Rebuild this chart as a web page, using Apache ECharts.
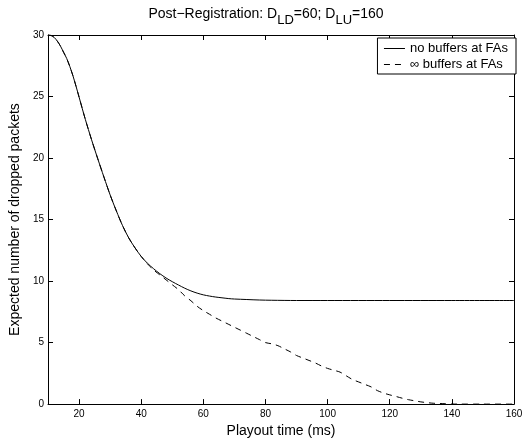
<!DOCTYPE html>
<html>
<head>
<meta charset="utf-8">
<script src="https://cdn.jsdelivr.net/npm/echarts@6/dist/echarts.min.js"></script>
<style>html,body{margin:0;padding:0;background:#fff;}#c{width:532px;height:443px;}</style>
</head>
<body>
<div id="c"></div>
<script>
// Data
const solidX = [10,11,12,13,14,15,16,17,18,19,20,22,24,26,28,30,32,34,36,38,40,42,44,46,48,50,52,54,56,58,60,62,64,66,68,70,74,78,82,90,100,120,140,160];
const solidY = [30,29.96,29.8,29.5,29.1,28.6,28.1,27.45,26.7,25.85,24.95,23.15,21.5,19.95,18.45,17.0,15.7,14.5,13.5,12.7,12.0,11.45,11.0,10.6,10.25,9.95,9.68,9.42,9.2,9.02,8.88,8.78,8.7,8.64,8.58,8.54,8.5,8.46,8.44,8.42,8.42,8.42,8.42,8.42];
const dashX = [10,11,12,13,14,15,16,17,18,19,20,22,24,26,28,30,32,34,36,38,40,42,44,46,48,50,52,54,56,58,60,62,64,66,68,70,72,74,76,78,80,82,84,86,88,90,92,94,96,98,100,102,104,106,108,110,112,114,116,118,120,122,124,126,128,130,132,134,136,138,140,142,150,160];
const dashY = [30,29.96,29.8,29.5,29.1,28.6,28.1,27.45,26.7,25.85,24.95,23.15,21.5,19.95,18.45,17.0,15.7,14.5,13.5,12.7,12.0,11.4,10.9,10.5,10.1,9.7,9.3,8.8,8.4,7.95,7.6,7.3,7.0,6.75,6.5,6.25,6.0,5.75,5.5,5.25,5.0,4.9,4.75,4.5,4.25,3.95,3.75,3.55,3.35,3.1,2.9,2.75,2.6,2.3,2.0,1.8,1.6,1.4,1.1,0.9,0.75,0.62,0.48,0.36,0.27,0.18,0.12,0.07,0.05,0.03,0.01,0,0,0];
const xTicks = [20,40,60,80,100,120,140,160];
const yTicks = [0,5,10,15,20,25,30];
const seriesNames = ['no buffers at FAs', '\u221e buffers at FAs'];

const font = 'Liberation Sans, Arial, Helvetica, sans-serif';
const chart = echarts.init(document.getElementById('c'), null, {renderer:'canvas'});
const tickStyle = {show:true, inside:true, length:5, lineStyle:{color:'#000', width:1}};
chart.setOption({
  animation:false,
  backgroundColor:'#fff',
  title:{
    text:'{a|Post\u2212Registration: D}{s|LD}{a|=60; D}{s|LU}{a|=160}',
    left:'center', top:2,
    textStyle:{
      fontFamily:font, fontWeight:'normal',
      rich:{
        a:{fontFamily:font, fontSize:14, fontWeight:'normal', color:'#000', verticalAlign:'top', lineHeight:16},
        s:{fontFamily:font, fontSize:13, fontWeight:'normal', color:'#000', verticalAlign:'top', lineHeight:16, padding:[7,0,0,0]}
      }
    }
  },
  legend:{
    right:16, top:38, orient:'vertical',
    backgroundColor:'#fff', borderColor:'#000', borderWidth:1, borderRadius:0,
    padding:[4,8,3,6], itemGap:3, itemWidth:21, itemHeight:12,
    itemStyle:{opacity:0},
    lineStyle:{width:1},
    textStyle:{fontFamily:font, fontSize:13, color:'#000'},
    data:seriesNames
  },
  grid:{left:44, right:18, top:35, bottom:26, containLabel:false},
  xAxis:[{
    type:'value', min:10, max:160,
    name:'Playout time (ms)', nameLocation:'middle', nameGap:11,
    nameTextStyle:{fontFamily:font, fontSize:14, color:'#000'},
    axisLine:{show:true, onZero:false, lineStyle:{color:'#000', width:1}},
    axisTick:Object.assign({customValues:xTicks}, tickStyle),
    axisLabel:{customValues:xTicks, fontFamily:font, fontSize:10, color:'#000', margin:5},
    splitLine:{show:false}
  },{
    type:'value', min:10, max:160, position:'top',
    axisLine:{show:true, onZero:false, lineStyle:{color:'#000', width:1}},
    axisTick:Object.assign({customValues:xTicks}, tickStyle),
    axisLabel:{show:false},
    splitLine:{show:false}
  }],
  yAxis:[{
    type:'value', min:0, max:30, interval:5,
    name:'Expected number of dropped packets', nameLocation:'middle', nameGap:18,
    nameTextStyle:{fontFamily:font, fontSize:14, color:'#000'},
    axisLine:{show:true, onZero:false, lineStyle:{color:'#000', width:1}},
    axisTick:tickStyle,
    axisLabel:{fontFamily:font, fontSize:10, color:'#000', margin:4},
    splitLine:{show:false}
  },{
    type:'value', min:0, max:30, interval:5, position:'right',
    axisLine:{show:true, onZero:false, lineStyle:{color:'#000', width:1}},
    axisTick:tickStyle,
    axisLabel:{show:false},
    splitLine:{show:false}
  }],
  series:[{
    name:seriesNames[0], type:'line', symbol:'none', smooth:0.3,
    data:solidX.map((x,i)=>[x, solidY[i]]),
    lineStyle:{color:'#000', width:1, type:'solid'}, itemStyle:{color:'#000'}
  },{
    name:seriesNames[1], type:'line', symbol:'none', smooth:0.3,
    data:dashX.map((x,i)=>[x, dashY[i]]),
    lineStyle:{color:'#000', width:1, type:[6,5]}, itemStyle:{color:'#000'}
  }]
});
</script>
</body>
</html>
